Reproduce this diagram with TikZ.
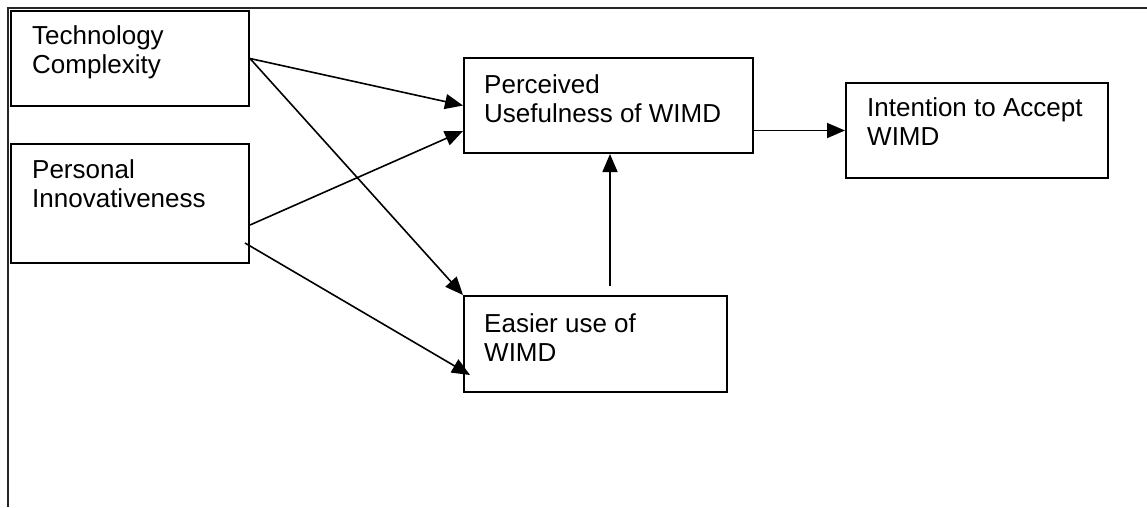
\documentclass[tikz,border=0pt]{standalone}
\usepackage{fontspec}
\setmainfont{Liberation Sans}
\usetikzlibrary{arrows.meta,calc}
\tikzset{
  box/.style={draw, line width=2pt, rectangle, inner sep=0pt, anchor=north west},
  lbl/.style={anchor=base west, inner sep=0pt, font=\fontsize{26pt}{29pt}\selectfont},
  arr/.style={line width=1.6pt, -{Triangle[length=18pt,width=15pt]}},
  frame/.style={line width=2pt, draw=black!85}
}
\begin{document}
\begin{tikzpicture}[x=1pt,y=-1pt]
\useasboundingbox (0,0) rectangle (1147,507);
% outer frame
\coordinate (f0) at (8,8);
\coordinate (f1) at (1147,8);
\coordinate (f2) at (8,507);
\draw[frame] (f1) -- (f0) -- (f2);
% boxes
\node[box, minimum width=238pt, minimum height=95pt] (tc) at (10,10) {};
\node[box, minimum width=238pt, minimum height=119pt] (pi) at (10,143) {};
\node[box, minimum width=289pt, minimum height=95pt] (pu) at (463,57) {};
\node[box, minimum width=262pt, minimum height=95pt] (ia) at (845,82) {};
\node[box, minimum width=263pt, minimum height=96pt] (eu) at (463,295) {};
% labels
\node[lbl] (tc1) at (32,44) {Technology};
\node[lbl] (tc2) at (32,73) {Complexity};
\node[lbl] (pi1) at (32,178) {Personal};
\node[lbl] (pi2) at (32,207) {Innovativeness};
\node[lbl] (pu1) at (484,93) {Perceived};
\node[lbl] (pu2) at (484,122) {Usefulness of WIMD};
\node[lbl] (ia1) at (867,116) {Intention to Accept};
\node[lbl] (ia2) at (867,145) {WIMD};
\node[lbl] (eu1) at (484,332) {Easier use of};
\node[lbl] (eu2) at (484,361) {WIMD};
% connectors
\draw[arr] (tc.east) -- (pu.west);
\draw[arr] (tc.east) -- (eu.north west);
\draw[arr] ($(pi.east)+(0,21.5)$) -- ($(pu.south west)+(0,-23)$);
\draw[arr] ($(pi.east)+(-5,39.5)$) -- ($(eu.south west)+(7,-18)$);
\coordinate (euup) at ($(eu.north west)+(147,-9)$);
\draw[arr] (euup) -- (euup |- pu.south);
\draw[arr] (pu.east |- ia.west) -- (ia.west);
\end{tikzpicture}
\end{document}
